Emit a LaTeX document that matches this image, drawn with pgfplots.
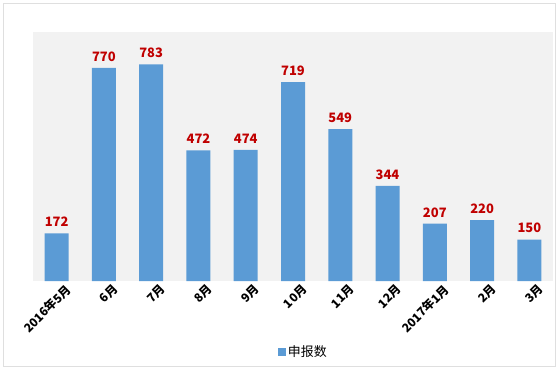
\documentclass[border=0pt]{standalone}
\usepackage{pgfplots}
\pgfplotsset{compat=1.18}
\usepackage{fontspec}
\setmainfont{Noto Sans CJK SC}
\definecolor{barblue}{HTML}{5B9BD5}
\definecolor{labred}{HTML}{C00000}
\definecolor{bggray}{HTML}{F2F2F2}
\begin{document}
\begin{tikzpicture}[x=1bp,y=1bp]
\useasboundingbox (-33,-88) rectangle (525,281);
\draw[color=gray!25, line width=1bp] (-30,-85) rectangle (522,278);
\begin{axis}[
  at={(0,0)}, anchor=south west,
  scale only axis, width=520bp, height=249bp,
  ybar, bar width=24bp,
  xmin=-0.5, xmax=10.5, ymin=0, ymax=900,
  axis line style={draw=none},
  axis background/.style={fill=bggray},
  ytick=\empty, major tick length=0pt,
  xtick=data,
  xticklabels={2016年5月,6月,7月,8月,9月,10月,11月,12月,2017年1月,2月,3月},
  xticklabel style={rotate=45, anchor=north east, font=\fontsize{12}{13}\selectfont\bfseries, inner sep=0pt, xshift=4bp, yshift=-7bp},
  nodes near coords,
  nodes near coords style={font=\fontsize{13}{15}\selectfont\bfseries, text=labred, yshift=3bp},
  /pgf/number format/assume math mode=true,
  legend style={draw=none, fill=none, at={(0.52,-0.285)}, anchor=center, font=\fontsize{13}{15}\selectfont},
  legend image code/.code={\fill[barblue] (0bp,-4bp) rectangle (8bp,4bp);},
]
\addplot[fill=barblue, draw=none] coordinates {(0,172) (1,770) (2,783) (3,472) (4,474) (5,719) (6,549) (7,344) (8,207) (9,220) (10,150)};
\addlegendentry{申报数}
\end{axis}
\end{tikzpicture}
\end{document}
